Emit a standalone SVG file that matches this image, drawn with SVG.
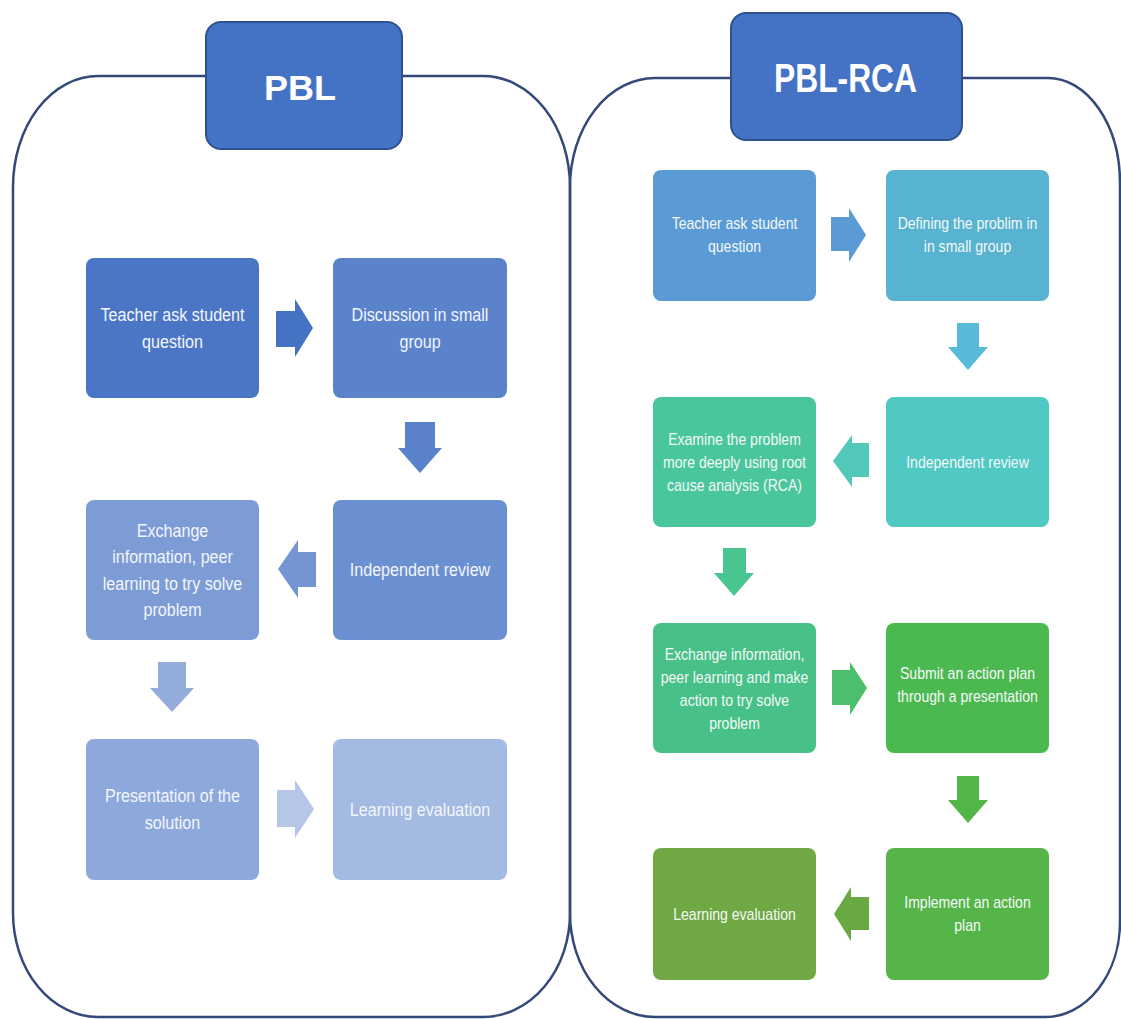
<svg xmlns="http://www.w3.org/2000/svg" width="1121" height="1019" viewBox="0 0 1121 1019">
<style>
.panel{fill:none;stroke:#34497A;stroke-width:2.5}
.hdr{fill:#4472C4;stroke:#2F528F;stroke-width:2}
.htxt{font-family:"Liberation Sans",Arial,sans-serif;font-weight:bold;fill:#FFFFFF;text-anchor:middle}
.lt{font-family:"Liberation Sans",Arial,sans-serif;font-size:18.5px;fill:#F3F6FC;text-anchor:middle}
.rt{font-family:"Liberation Sans",Arial,sans-serif;font-size:15.8px;fill:#F3F8F8;text-anchor:middle}
</style>
<rect x="0" y="0" width="1121" height="1019" fill="#FFFFFF"/>
<g id="panels">
<path class="panel" d="M 98 76 H 483 A 87 111 0 0 1 570 187 V 913 A 87 104 0 0 1 483 1017 H 98 A 85 104 0 0 1 13 913 V 187 A 85 111 0 0 1 98 76 Z"/>
<path class="panel" d="M 655 78 H 1048 A 72 105 0 0 1 1120 183 V 922 A 75 95 0 0 1 1045 1017 H 655 A 85 104 0 0 1 570 913 V 187 A 85 109 0 0 1 655 78 Z"/>
</g>
<g id="header-pbl">
<rect class="hdr" x="206" y="22" width="196" height="127" rx="15"/>
<text class="htxt" x="300" y="100" font-size="35" textLength="72" lengthAdjust="spacingAndGlyphs">PBL</text>
</g>
<g id="header-pblrca">
<rect class="hdr" x="731" y="13" width="231" height="127" rx="15"/>
<text class="htxt" x="845.5" y="92" font-size="40" textLength="143" lengthAdjust="spacingAndGlyphs">PBL-RCA</text>
</g>
<g id="connectors">
<polygon fill="#4672C3" points="276,311 295,311 295,299 313,328 295,357 295,347 276,347"/>
<polygon fill="#5A82CB" points="405,422 435,422 435,448 442,448 420,473 398,448 405,448"/>
<polygon fill="#7595D2" points="316,552 298,552 298,540 278,569 298,598 298,587 316,587"/>
<polygon fill="#93ACDA" points="158,662 186,662 186,688 194,688 172,712 150,688 158,688"/>
<polygon fill="#B5C6E6" points="277,790 295,790 295,780 314,809 295,838 295,827 277,827"/>
<polygon fill="#5B9BD5" points="831,217 849,217 849,208 866,235 849,262 849,251 831,251"/>
<polygon fill="#59B9D9" points="957,323 979,323 979,347 988,347 968,370 948,347 957,347"/>
<polygon fill="#52C9B8" points="869,443 852,443 852,435 833,461 852,487 852,477 869,477"/>
<polygon fill="#49C58F" points="723,548 746,548 746,573 754,573 734,596 714,573 723,573"/>
<polygon fill="#4BBF6C" points="832,670 850,670 850,662 867,688 850,715 850,705 832,705"/>
<polygon fill="#52B547" points="957,776 979,776 979,800 988,800 968,823 948,800 957,800"/>
<polygon fill="#69A944" points="869,897 851,897 851,887 834,914 851,941 851,930 869,930"/>
</g>
<g id="pbl-1">
<rect x="86" y="258" width="173" height="140" rx="8" fill="#4B76C6"/>
<g transform="translate(172.5 0) scale(0.87 1)"><text class="lt" x="0" y="321">Teacher ask student</text><text class="lt" x="0" y="348">question</text></g>
</g>
<g id="pbl-2">
<rect x="333" y="258" width="174" height="140" rx="8" fill="#5A83CC"/>
<g transform="translate(420 0) scale(0.87 1)"><text class="lt" x="0" y="321">Discussion in small</text><text class="lt" x="0" y="348">group</text></g>
</g>
<g id="pbl-3">
<rect x="333" y="500" width="174" height="140" rx="8" fill="#6B90D1"/>
<g transform="translate(420 0) scale(0.87 1)"><text class="lt" x="0" y="576">Independent review</text></g>
</g>
<g id="pbl-4">
<rect x="86" y="500" width="173" height="140" rx="8" fill="#7D9CD6"/>
<g transform="translate(172.5 0) scale(0.87 1)"><text class="lt" x="0" y="537">Exchange</text><text class="lt" x="0" y="563">information, peer</text><text class="lt" x="0" y="590">learning to try solve</text><text class="lt" x="0" y="616">problem</text></g>
</g>
<g id="pbl-5">
<rect x="86" y="739" width="173" height="141" rx="8" fill="#8DA9DC"/>
<g transform="translate(172.5 0) scale(0.87 1)"><text class="lt" x="0" y="802.5">Presentation of the</text><text class="lt" x="0" y="829">solution</text></g>
</g>
<g id="pbl-6">
<rect x="333" y="739" width="174" height="141" rx="8" fill="#A3BAE2"/>
<g transform="translate(420 0) scale(0.87 1)"><text class="lt" x="0" y="816">Learning evaluation</text></g>
</g>
<g id="rca-1">
<rect x="653" y="170" width="163" height="131" rx="8" fill="#5B9BD5"/>
<g transform="translate(734.5 0) scale(0.89 1)"><text class="rt" x="0" y="229.5">Teacher ask student</text><text class="rt" x="0" y="252.5">question</text></g>
</g>
<g id="rca-2">
<rect x="886" y="170" width="163" height="131" rx="8" fill="#57B3CF"/>
<g transform="translate(967.5 0) scale(0.89 1)"><text class="rt" x="0" y="229.5">Defining the problim in</text><text class="rt" x="0" y="252.5">in small group</text></g>
</g>
<g id="rca-3">
<rect x="886" y="397" width="163" height="130" rx="8" fill="#50C8C4"/>
<g transform="translate(967.5 0) scale(0.89 1)"><text class="rt" x="0" y="467.7">Independent review</text></g>
</g>
<g id="rca-4">
<rect x="653" y="397" width="163" height="130" rx="8" fill="#4AC69C"/>
<g transform="translate(734.5 0) scale(0.89 1)"><text class="rt" x="0" y="444.7">Examine the problem</text><text class="rt" x="0" y="467.7">more deeply using root</text><text class="rt" x="0" y="490.7">cause analysis (RCA)</text></g>
</g>
<g id="rca-5">
<rect x="653" y="623" width="163" height="130" rx="8" fill="#47C187"/>
<g transform="translate(734.5 0) scale(0.89 1)"><text class="rt" x="0" y="660">Exchange information,</text><text class="rt" x="0" y="683">peer learning and make</text><text class="rt" x="0" y="706">action to try solve</text><text class="rt" x="0" y="729">problem</text></g>
</g>
<g id="rca-6">
<rect x="886" y="623" width="163" height="130" rx="8" fill="#4CB950"/>
<g transform="translate(967.5 0) scale(0.89 1)"><text class="rt" x="0" y="679">Submit an action plan</text><text class="rt" x="0" y="702">through a presentation</text></g>
</g>
<g id="rca-7">
<rect x="886" y="848" width="163" height="132" rx="8" fill="#55B548"/>
<g transform="translate(967.5 0) scale(0.89 1)"><text class="rt" x="0" y="908">Implement an action</text><text class="rt" x="0" y="931">plan</text></g>
</g>
<g id="rca-8">
<rect x="653" y="848" width="163" height="132" rx="8" fill="#70A843"/>
<g transform="translate(734.5 0) scale(0.89 1)"><text class="rt" x="0" y="919.7">Learning evaluation</text></g>
</g>
</svg>
